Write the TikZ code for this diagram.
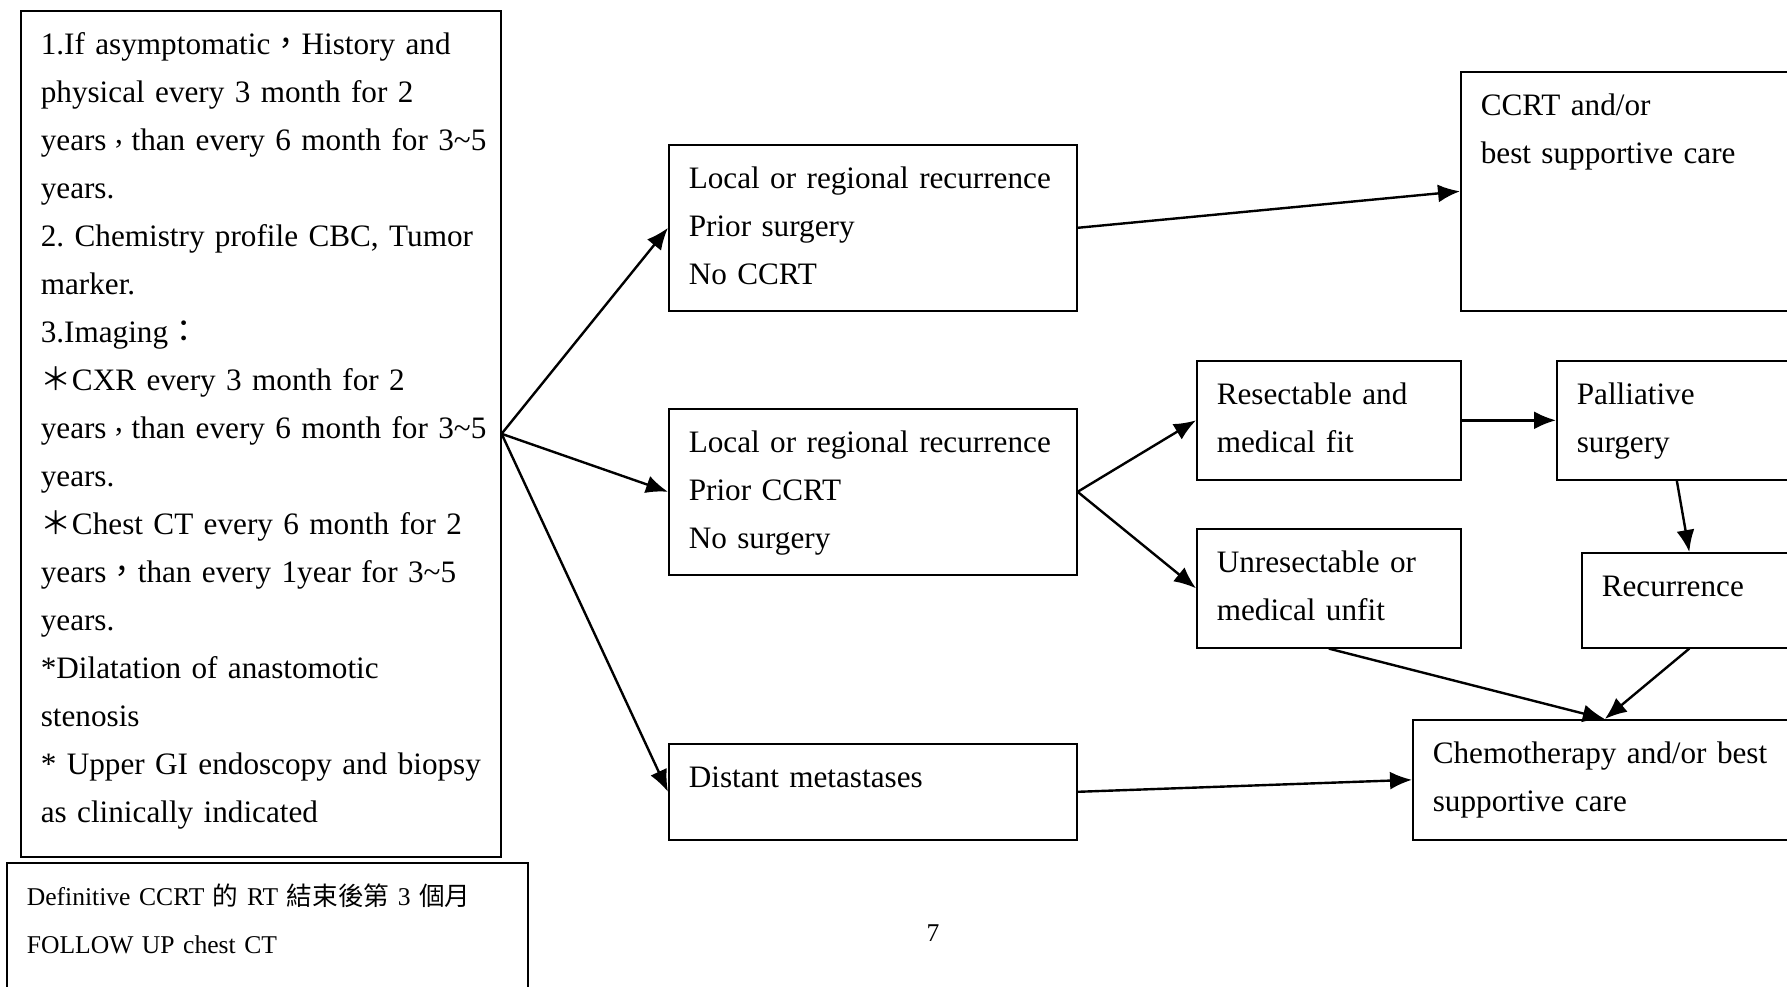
\documentclass[tikz,border=0pt]{standalone}
\usepackage{fontspec}
\setmainfont{Liberation Serif}
\newfontfamily\cjk{Noto Sans CJK TC}
\usetikzlibrary{arrows.meta}
\newcommand\bodysize{\fontsize{15.6}{24}\selectfont\frenchspacing}
\newcommand\notesize{\fontsize{12.8}{24}\selectfont\frenchspacing}
\newcommand\narrowcomma{\makebox[0.8em][c]{\raisebox{0.25em}{,}}}
\newcommand\widecomma{{\cjk ，}}
\tikzset{
  box/.style={draw, line width=0.8pt, anchor=north west, inner xsep=0pt, inner ysep=0pt,
    align=left, text height=22pt, font=\bodysize,
    execute at begin node={\leftskip=10pt\relax\hyphenpenalty=10000\relax}},
  link/.style={-{Latex[length=11pt,width=9pt]}, line width=1.2pt},
}

\begin{document}
\begin{tikzpicture}[x=0.5pt, y=-0.5pt]
    \path[use as bounding box, clip] (0,0) rectangle (1787,986);
    \node[box, text width=240pt, text depth=401pt] (followup) at (20,10) {%
      1.If asymptomatic\widecomma History and\\
      physical every 3 month for 2\\
      years\narrowcomma than every 6 month for 3\textasciitilde5\\
      years.\\
      2. Chemistry profile CBC, Tumor\\
      marker.\\
      3.Imaging{\cjk ：}\\
      {\cjk ＊}CXR every 3 month for 2\\
      years\narrowcomma than every 6 month for 3\textasciitilde5\\
      years.\\
      {\cjk ＊}Chest CT every 6 month for 2\\
      years\widecomma than every 1year for 3\textasciitilde5\\
      years.\\
      {*}Dilatation of anastomotic\\
      stenosis\\
      {*} Upper GI endoscopy and biopsy\\
      as clinically indicated};
    \node[box, font=\notesize, text height=21.5pt, text width=260.5pt, text depth=80pt] (note) at (6,862) {%
      Definitive CCRT {\cjk 的} RT {\cjk 結束後第} 3 {\cjk 個月}\\
      FOLLOW UP chest CT};
    \node (pagenum) at (933,933) {\notesize 7};

    \node[box, text width=204pt, text depth=61pt] (surgery) at (668,144)
      {Local or regional recurrence\\ Prior surgery\\ No CCRT};
    \node[box, text width=204pt, text depth=61pt] (ccrt) at (668,408)
      {Local or regional recurrence\\ Prior CCRT\\ No surgery};
    \node[box, text width=204pt, text depth=26pt] (distant) at (668,743)
      {Distant metastases};

    \node[box, text width=168pt, text depth=97.5pt] (salvage) at (1460,71)
      {CCRT and/or\\ best supportive care};
    \node[box, text width=132pt, text depth=37.5pt] (resectable) at (1196,360)
      {Resectable and\\ medical fit};
    \node[box, text width=132pt, text depth=37.5pt] (unresectable) at (1196,528)
      {Unresectable or\\ medical unfit};
    \node[box, text width=120pt, text depth=37.5pt] (palliative) at (1556,360)
      {Palliative\\ surgery};
    \node[box, text width=107.5pt, text depth=25.5pt] (recurrence) at (1581,552)
      {Recurrence};
    \node[box, text width=192pt, text depth=38pt] (chemo) at (1412,719)
      {Chemotherapy and/or best\\ supportive care};

    \draw[link] (followup.east) -- (surgery.west);
    \draw[link] (followup.east) -- (ccrt.west);
    \draw[link] (followup.east) -- (distant.west);
    \draw[link] (surgery.east) -- (salvage.west);
    \draw[link] (ccrt.east) -- (resectable.west);
    \draw[link] (ccrt.east) -- (unresectable.west);
    \draw[link] (resectable.east) -- (palliative.west);
    \draw[link] (palliative.south) -- (recurrence.north);
    \draw[link] (unresectable.south) -- (chemo.north);
    \draw[link] (recurrence.south) -- (chemo.north);
    \draw[link] (distant.east) -- (chemo.west);
\end{tikzpicture}
\end{document}
